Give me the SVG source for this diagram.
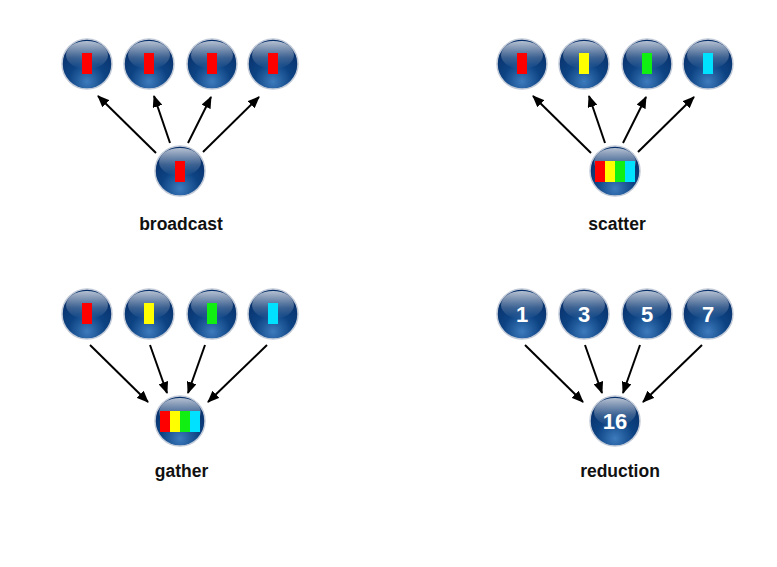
<svg xmlns="http://www.w3.org/2000/svg" width="777" height="567" viewBox="0 0 777 567">
<style>
.ball{fill:url(#sph);stroke:#c3cbd8;stroke-width:1.5}
.hl{fill:url(#gl)}
.lbl{font-family:"Liberation Sans",Arial,sans-serif;font-weight:bold;font-size:17.5px;fill:#111;text-anchor:middle}
.num{font-family:"Liberation Sans",Arial,sans-serif;font-weight:bold;font-size:22px;fill:#fff;text-anchor:middle}
.ar{stroke:#000;stroke-width:2;fill:none;marker-end:url(#ah)}
.r{fill:#ff0000}.y{fill:#ffff00}.g{fill:#11ee11}.c{fill:#00e0ff}
</style>
<defs>
<radialGradient id="sph" cx="50%" cy="85%" r="75%">
<stop offset="0" stop-color="#3d7bbd"/>
<stop offset="0.5" stop-color="#0d4383"/>
<stop offset="1" stop-color="#08306a"/>
</radialGradient>
<linearGradient id="gl" x1="0" y1="0" x2="0" y2="1">
<stop offset="0" stop-color="#fff" stop-opacity="0.7"/>
<stop offset="0.6" stop-color="#fff" stop-opacity="0.2"/>
<stop offset="1" stop-color="#fff" stop-opacity="0"/>
</linearGradient>
<marker id="ah" markerUnits="userSpaceOnUse" markerWidth="12" markerHeight="10" refX="11" refY="5" orient="auto" viewBox="0 0 12 10">
<path d="M0,0 L12,5 L0,10 z" fill="#000"/>
</marker>
<g id="sp"><circle class="ball" cx="0" cy="0" r="25"/><ellipse class="hl" cx="0" cy="-9" rx="21" ry="14"/></g>
</defs>
<rect width="777" height="567" fill="#fff"/>
<g id="connectors">
<line class="ar" x1="156" y1="153" x2="98" y2="96"/>
<line class="ar" x1="170" y1="143" x2="154" y2="96"/>
<line class="ar" x1="188" y1="143" x2="211" y2="97"/>
<line class="ar" x1="203" y1="152" x2="259" y2="97"/>
<line class="ar" x1="591" y1="153" x2="533" y2="96"/>
<line class="ar" x1="605" y1="143" x2="589" y2="96"/>
<line class="ar" x1="623" y1="143" x2="646" y2="97"/>
<line class="ar" x1="638" y1="152" x2="694" y2="97"/>
<line class="ar" x1="90" y1="345" x2="148" y2="402"/>
<line class="ar" x1="150" y1="345" x2="167" y2="393"/>
<line class="ar" x1="205" y1="345" x2="188" y2="393"/>
<line class="ar" x1="267" y1="345" x2="208" y2="402"/>
<line class="ar" x1="525" y1="345" x2="583" y2="402"/>
<line class="ar" x1="585" y1="345" x2="602" y2="393"/>
<line class="ar" x1="640" y1="345" x2="623" y2="393"/>
<line class="ar" x1="702" y1="345" x2="643" y2="402"/>
</g>
<!-- broadcast -->
<g id="b1" transform="translate(87,64)"><use href="#sp"/><rect class="r" x="-5" y="-11" width="10" height="21"/></g>
<g id="b2" transform="translate(149,64)"><use href="#sp"/><rect class="r" x="-5" y="-11" width="10" height="21"/></g>
<g id="b3" transform="translate(212,64)"><use href="#sp"/><rect class="r" x="-5" y="-11" width="10" height="21"/></g>
<g id="b4" transform="translate(273,64)"><use href="#sp"/><rect class="r" x="-5" y="-11" width="10" height="21"/></g>
<g id="b0" transform="translate(180,171)"><use href="#sp"/><rect class="r" x="-5" y="-10" width="10" height="21"/></g>
<!-- scatter -->
<g id="s1" transform="translate(522,64)"><use href="#sp"/><rect class="r" x="-5" y="-11" width="10" height="21"/></g>
<g id="s2" transform="translate(584,64)"><use href="#sp"/><rect class="y" x="-5" y="-11" width="10" height="21"/></g>
<g id="s3" transform="translate(647,64)"><use href="#sp"/><rect class="g" x="-5" y="-11" width="10" height="21"/></g>
<g id="s4" transform="translate(708,64)"><use href="#sp"/><rect class="c" x="-5" y="-11" width="10" height="21"/></g>
<g id="s0" transform="translate(615,171)"><use href="#sp"/><rect class="r" x="-20" y="-10" width="10" height="21"/><rect class="y" x="-10" y="-10" width="10" height="21"/><rect class="g" x="0" y="-10" width="10" height="21"/><rect class="c" x="10" y="-10" width="10" height="21"/></g>
<!-- gather -->
<g id="g1" transform="translate(87,314)"><use href="#sp"/><rect class="r" x="-5" y="-11" width="10" height="21"/></g>
<g id="g2" transform="translate(149,314)"><use href="#sp"/><rect class="y" x="-5" y="-11" width="10" height="21"/></g>
<g id="g3" transform="translate(212,314)"><use href="#sp"/><rect class="g" x="-5" y="-11" width="10" height="21"/></g>
<g id="g4" transform="translate(273,314)"><use href="#sp"/><rect class="c" x="-5" y="-11" width="10" height="21"/></g>
<g id="g0" transform="translate(180,421)"><use href="#sp"/><rect class="r" x="-20" y="-10" width="10" height="21"/><rect class="y" x="-10" y="-10" width="10" height="21"/><rect class="g" x="0" y="-10" width="10" height="21"/><rect class="c" x="10" y="-10" width="10" height="21"/></g>
<!-- reduction -->
<g id="r1" transform="translate(522,314)"><use href="#sp"/><text class="num" x="0" y="8">1</text></g>
<g id="r2" transform="translate(584,314)"><use href="#sp"/><text class="num" x="0" y="8">3</text></g>
<g id="r3" transform="translate(647,314)"><use href="#sp"/><text class="num" x="0" y="8">5</text></g>
<g id="r4" transform="translate(708,314)"><use href="#sp"/><text class="num" x="0" y="8">7</text></g>
<g id="r0" transform="translate(615,421)"><use href="#sp"/><text class="num" x="0" y="8">16</text></g>
<g id="labels">
<text class="lbl" x="181" y="230">broadcast</text>
<text class="lbl" x="617" y="230">scatter</text>
<text class="lbl" x="181.5" y="477">gather</text>
<text class="lbl" x="620" y="477">reduction</text>
</g>
</svg>
